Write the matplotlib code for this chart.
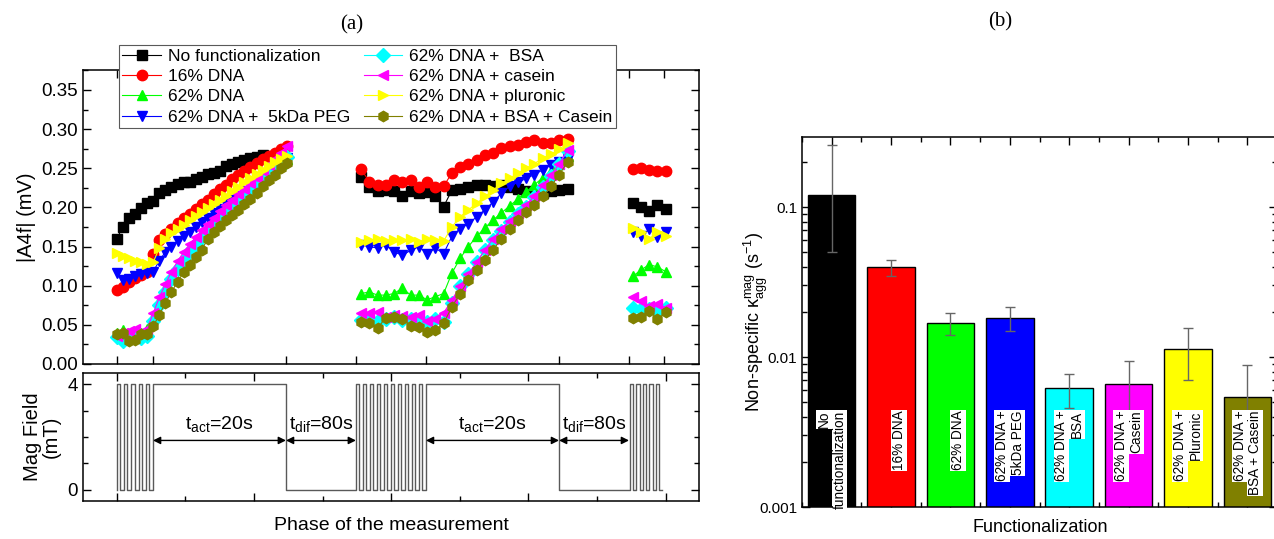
import numpy as np
import matplotlib
matplotlib.use('Agg')
import matplotlib.pyplot as plt
from matplotlib.lines import Line2D
from matplotlib.ticker import FixedLocator, MultipleLocator, FuncFormatter, LogLocator, NullFormatter

plt.rcParams['font.family'] = ['Liberation Sans', 'DejaVu Sans']
plt.rcParams['mathtext.fontset'] = 'custom'
plt.rcParams['mathtext.rm'] = 'Liberation Sans'
plt.rcParams['mathtext.it'] = 'Liberation Sans:italic'

# ---------------- (a) |A4f| over the measurement phases ----------------
series_names = ['No functionalization', '16% DNA', '62% DNA', '62% DNA +  5kDa PEG',
                '62% DNA +  BSA', '62% DNA + casein', '62% DNA + pluronic',
                '62% DNA + BSA + Casein']
series_colors = ['#000000', '#ff0000', '#00ff00', '#0000ff',
                 '#00ffff', '#ff00ff', '#ffff00', '#808000']
series_markers = ['s', 'o', '^', 'v', 'D', '<', '>', 'h']

# phase axis (arbitrary units), boundaries of pulse / actuation / diffusion phases
phase_edges = [0.0, 2.64, 12.33, 17.43, 22.53, 32.23, 37.33, 39.88]

seg1_x = np.linspace(0.0, 12.4, 29)
seg2_x = np.linspace(17.8, 32.85, 26)
seg3_x = np.linspace(37.6, 40.0, 5)

nofunc_1 = [0.160, 0.175, 0.186, 0.192, 0.199, 0.205, 0.208, 0.219, 0.222, 0.226, 0.230, 0.232, 0.233,
            0.236, 0.239, 0.243, 0.244, 0.246, 0.253, 0.256, 0.258, 0.260, 0.263, 0.265, 0.267]
nofunc_2 = [0.239, 0.226, 0.221, 0.222, 0.221, 0.215, 0.221, 0.219, 0.220, 0.214, 0.201, 0.222, 0.224,
            0.226, 0.229, 0.228, 0.227, 0.229, 0.226, 0.224, 0.221, 0.218, 0.219, 0.221, 0.222, 0.224]
nofunc_3 = [0.205, 0.200, 0.195, 0.203, 0.198]

dna16_1 = [0.094, 0.098, 0.105, 0.110, 0.114, 0.118, 0.140, 0.158, 0.166, 0.173, 0.180, 0.186, 0.192,
           0.198, 0.204, 0.210, 0.217, 0.223, 0.229, 0.236, 0.242, 0.247, 0.252, 0.257, 0.262, 0.266,
           0.270, 0.274, 0.278]
dna16_2 = [0.249, 0.233, 0.229, 0.229, 0.235, 0.232, 0.235, 0.226, 0.232, 0.226, 0.227, 0.244, 0.252,
           0.256, 0.260, 0.267, 0.270, 0.276, 0.278, 0.280, 0.284, 0.286, 0.282, 0.282, 0.286, 0.288]
dna16_3 = [0.249, 0.250, 0.248, 0.247, 0.246]

dna62_1 = [0.040, 0.043, 0.036, 0.038, 0.040, 0.045, 0.060, 0.080, 0.097, 0.112, 0.125, 0.137, 0.148,
           0.157, 0.165, 0.173, 0.181, 0.188, 0.195, 0.202, 0.209, 0.216, 0.222, 0.229, 0.236, 0.243,
           0.250, 0.256, 0.262]
dna62_2 = [0.090, 0.092, 0.088, 0.088, 0.090, 0.097, 0.088, 0.088, 0.082, 0.086, 0.090, 0.116, 0.135,
           0.150, 0.163, 0.174, 0.184, 0.193, 0.202, 0.211, 0.220, 0.229, 0.238, 0.247, 0.256, 0.266]
dna62_3 = [0.112, 0.120, 0.127, 0.124, 0.118]

peg_1 = [0.116, 0.107, 0.108, 0.113, 0.115, 0.116, 0.118, 0.132, 0.143, 0.150, 0.157, 0.163, 0.169,
         0.175, 0.181, 0.187, 0.193, 0.198, 0.204, 0.210, 0.215, 0.221, 0.227, 0.233, 0.239, 0.245,
         0.251, 0.257, 0.263]
peg_2 = [0.152, 0.150, 0.148, 0.152, 0.143, 0.139, 0.145, 0.150, 0.141, 0.148, 0.141, 0.163, 0.173,
         0.179, 0.188, 0.197, 0.207, 0.218, 0.227, 0.232, 0.237, 0.242, 0.248, 0.254, 0.258, 0.262]
peg_3 = [0.168, 0.163, 0.172, 0.162, 0.168]

bsa_1 = [0.035, 0.030, 0.033, 0.035, 0.033, 0.036, 0.055, 0.075, 0.092, 0.108, 0.121, 0.133, 0.144,
         0.153, 0.162, 0.170, 0.178, 0.186, 0.193, 0.200, 0.207, 0.214, 0.221, 0.228, 0.235, 0.242,
         0.249, 0.256, 0.265]
bsa_2 = [0.056, 0.058, 0.055, 0.057, 0.060, 0.056, 0.058, 0.056, 0.054, 0.057, 0.054, 0.078, 0.099,
         0.115, 0.130, 0.145, 0.158, 0.170, 0.181, 0.191, 0.201, 0.213, 0.226, 0.240, 0.256, 0.272]
bsa_3 = [0.072, 0.070, 0.070, 0.068, 0.072]

casein_1 = [0.036, 0.040, 0.042, 0.045, 0.040, 0.045, 0.065, 0.085, 0.102, 0.118, 0.131, 0.143, 0.153,
            0.162, 0.171, 0.179, 0.187, 0.195, 0.203, 0.210, 0.217, 0.224, 0.231, 0.238, 0.246, 0.254,
            0.262, 0.270, 0.278]
casein_2 = [0.065, 0.065, 0.067, 0.060, 0.063, 0.061, 0.060, 0.062, 0.055, 0.058, 0.065, 0.082, 0.099,
            0.115, 0.130, 0.146, 0.160, 0.172, 0.183, 0.193, 0.203, 0.215, 0.228, 0.241, 0.256, 0.273]
casein_3 = [0.086, 0.080, 0.074, 0.076, 0.072]

pluronic_1 = [0.142, 0.138, 0.135, 0.132, 0.130, 0.128, 0.130, 0.148, 0.160, 0.167, 0.173, 0.178, 0.184,
              0.189, 0.194, 0.199, 0.204, 0.209, 0.215, 0.221, 0.226, 0.232, 0.237, 0.243, 0.248, 0.253,
              0.258, 0.262, 0.266]
pluronic_2 = [0.156, 0.158, 0.160, 0.157, 0.159, 0.158, 0.160, 0.156, 0.160, 0.158, 0.157, 0.175, 0.188,
              0.197, 0.205, 0.214, 0.222, 0.231, 0.237, 0.244, 0.250, 0.256, 0.263, 0.268, 0.274, 0.282]
pluronic_3 = [0.174, 0.168, 0.160, 0.168, 0.164]

bsacas_1 = [0.038, 0.040, 0.030, 0.031, 0.038, 0.038, 0.048, 0.063, 0.078, 0.092, 0.105, 0.117, 0.127,
            0.137, 0.146, 0.160, 0.168, 0.176, 0.184, 0.190, 0.197, 0.204, 0.211, 0.218, 0.227, 0.235,
            0.242, 0.250, 0.257]
bsacas_2 = [0.054, 0.052, 0.046, 0.059, 0.060, 0.058, 0.049, 0.047, 0.041, 0.043, 0.052, 0.073, 0.090,
            0.107, 0.120, 0.133, 0.146, 0.160, 0.172, 0.184, 0.194, 0.203, 0.214, 0.227, 0.242, 0.258]
bsacas_3 = [0.059, 0.060, 0.068, 0.057, 0.066]

series_segments = [
    (nofunc_1, nofunc_2, nofunc_3),
    (dna16_1, dna16_2, dna16_3),
    (dna62_1, dna62_2, dna62_3),
    (peg_1, peg_2, peg_3),
    (bsa_1, bsa_2, bsa_3),
    (casein_1, casein_2, casein_3),
    (pluronic_1, pluronic_2, pluronic_3),
    (bsacas_1, bsacas_2, bsacas_3),
]

# magnetic field protocol: pulse rising edges, actuation windows
pulse_on = [0.0, 0.53, 1.06, 1.59, 2.12,
            17.43, 17.94, 18.45, 18.96, 19.47, 19.98, 20.49, 21.0, 21.51, 22.02,
            37.4, 37.87, 38.34, 38.81, 39.28]
pulse_width = 0.25
act_windows = [(2.64, 12.33), (22.53, 32.23)]
field_end = 39.75
field_high = 4.0

# ---------------- (b) non-specific aggregation rate ----------------
bar_labels = ['No\nfunctionalization', '16% DNA', '62% DNA', '62% DNA +\n5kDa PEG',
              '62% DNA +\nBSA', '62% DNA +\nCasein', '62% DNA +\nPluronic', '62% DNA +\nBSA + Casein']
bar_values = [0.120, 0.0396, 0.0168, 0.0183, 0.0062, 0.0066, 0.01125, 0.0054]
err_hi = [0.259, 0.0443, 0.0196, 0.0216, 0.0077, 0.0094, 0.0155, 0.0089]
err_lo = [0.050, 0.0347, 0.0140, 0.0150, 0.0046, 0.0040, 0.0070, 0.0022]
bar_colors = ['#000000', '#ff0000', '#00ff00', '#0000ff', '#00ffff', '#ff00ff', '#ffff00', '#808000']

# ---------------- figure ----------------
W, H = 1274, 539
fig = plt.figure(figsize=(W / 100, H / 100), dpi=100)


def fig_rect(x0, y0, x1, y1):
    # pixel box (top-left origin) -> figure fraction rect
    return [x0 / W, 1 - y1 / H, (x1 - x0) / W, (y1 - y0) / H]


ax1 = fig.add_axes(fig_rect(83, 70, 699, 364))
ax2 = fig.add_axes(fig_rect(83, 373, 699, 501))
ax3 = fig.add_axes(fig_rect(802, 137, 1277, 507))

xlim = (-2.46, 42.43)

# top panel
for segs, c, m in zip(series_segments, series_colors, series_markers):
    for xs, ys in zip((seg1_x, seg2_x, seg3_x), segs):
        ax1.plot(xs[:len(ys)], ys, color=c, marker=m, ms=7.5, mec=c, mfc=c, lw=0.8)

ax1.set_xlim(*xlim)
ax1.set_ylim(0, 0.3755)
ax1.xaxis.set_major_locator(FixedLocator(phase_edges))
ax1.yaxis.set_major_locator(MultipleLocator(0.05))
ax1.yaxis.set_minor_locator(MultipleLocator(0.025))
ax1.yaxis.set_major_formatter(FuncFormatter(lambda v, p: f'{v:.2f}'))
ax1.tick_params(which='both', direction='in', top=True, right=True, labelbottom=False, labelsize=13.5)
ax1.tick_params(which='major', length=6, width=1)
ax1.tick_params(which='minor', length=3.5, width=1)

handles = [Line2D([], [], color=c, marker=m, ms=7.5, lw=0.8) for c, m in zip(series_colors, series_markers)]
leg = ax1.legend(handles, series_names, ncol=2, loc='upper left',
                 bbox_to_anchor=(119 / W, 1 - 45 / H), bbox_transform=fig.transFigure,
                 fontsize=12.5, frameon=True, fancybox=False, framealpha=1, edgecolor='0.35',
                 borderaxespad=0, borderpad=0.2, labelspacing=0.3, handlelength=2.2,
                 handletextpad=0.4, columnspacing=0.8)
leg.get_frame().set_linewidth(0.8)

# bottom panel: field waveform
wx, wy = [pulse_on[0]], [0.0]
events = [(t, t + pulse_width) for t in pulse_on] + act_windows
for on, off in sorted(events):
    wx += [on, on, off, off]
    wy += [0.0, field_high, field_high, 0.0]
wx.append(field_end)
wy.append(0.0)
ax2.plot(wx, wy, color='0.35', lw=1.0)

ax2.set_xlim(*xlim)
ax2.set_ylim(-0.42, 4.42)
ax2.xaxis.set_major_locator(MultipleLocator(10))
ax2.xaxis.set_minor_locator(MultipleLocator(5))
ax2.yaxis.set_major_locator(FixedLocator([0, 4]))
ax2.yaxis.set_minor_locator(FixedLocator([1, 2, 3]))
ax2.tick_params(which='both', direction='in', top=True, right=True, labelbottom=False, labelsize=13.5)
ax2.tick_params(which='major', length=6, width=1)
ax2.tick_params(which='minor', length=3.5, width=1)

arrow_y = 1.87
text_y = 2.29
arrow_kw = dict(arrowstyle='<|-|>', color='black', lw=1.0, mutation_scale=11, shrinkA=0, shrinkB=0)
for a0, a1 in act_windows:
    ax2.annotate('', xy=(a0, arrow_y), xytext=(a1, arrow_y), arrowprops=arrow_kw)
    ax2.text((a0 + a1) / 2, text_y, r'$\mathrm{t_{act}}$=20s', ha='center', va='baseline', fontsize=14)
for d0, d1 in [(phase_edges[2], phase_edges[3]), (phase_edges[5], phase_edges[6])]:
    ax2.annotate('', xy=(d0, arrow_y), xytext=(d1, arrow_y), arrowprops=arrow_kw)
    ax2.text((d0 + d1) / 2, text_y, r'$\mathrm{t_{dif}}$=80s', ha='center', va='baseline', fontsize=14)

for ax in (ax1, ax2, ax3):
    for s in ax.spines.values():
        s.set_linewidth(1.1)

fig.text(27 / W, 1 - 217 / H, '|A4f| (mV)', rotation=90, ha='center', va='center', fontsize=14.5)
fig.text(42 / W, 1 - 437 / H, 'Mag Field\n(mT)', rotation=90, ha='center', va='center',
         fontsize=14.5, multialignment='center', linespacing=1.0)
fig.text(391 / W, 1 - 525 / H, 'Phase of the measurement', ha='center', va='center', fontsize=14)
fig.text(352 / W, 1 - 25 / H, '(a)', ha='center', va='center', fontsize=15, family='Liberation Serif')
fig.text(1000 / W, 1 - 22 / H, '(b)', ha='center', va='center', fontsize=15, family='Liberation Serif')

# right panel: bars on log scale
ax3.set_yscale('log')
xb = np.arange(len(bar_values))
ax3.bar(xb, bar_values, width=0.8, color=bar_colors, edgecolor='black', linewidth=1.0, zorder=2)
yerr = [np.array(bar_values) - np.array(err_lo), np.array(err_hi) - np.array(bar_values)]
ax3.errorbar(xb, bar_values, yerr=yerr, fmt='none', ecolor='0.4', elinewidth=1.0,
             capsize=3.5, capthick=1.0, zorder=3)

label_top = 0.0044
for i, lab in enumerate(bar_labels):
    lines = lab.split('\n')
    offs = [0.13] if len(lines) == 1 else [-0.13, 0.13]
    for off, line in zip(offs, lines):
        ax3.text(i + off, label_top, line, rotation=90, ha='center', va='top', fontsize=9.8,
                 bbox=dict(facecolor='white', edgecolor='none', pad=0.6), zorder=4)

ax3.set_xlim(-0.5, 7.5)
ax3.set_ylim(0.001, 0.293)
ax3.set_xticks(xb)
ax3.xaxis.set_minor_locator(MultipleLocator(0.5))
ax3.yaxis.set_major_locator(FixedLocator([0.001, 0.01, 0.1]))
ax3.yaxis.set_minor_locator(LogLocator(base=10, subs=np.arange(2, 10)))
ax3.yaxis.set_major_formatter(FuncFormatter(lambda v, p: f'{v:g}'))
ax3.yaxis.set_minor_formatter(NullFormatter())
ax3.tick_params(which='both', direction='in', top=True, right=True, labelbottom=False, labelsize=11)
ax3.tick_params(which='major', length=6, width=1)
ax3.tick_params(which='minor', length=3.5, width=1)

fig.text(1040 / W, 1 - 528 / H, 'Functionalization', ha='center', va='center', fontsize=13)
fig.text(756 / W, 1 - 322 / H,
         r'Non-specific κ$_{\mathrm{agg}}^{\mathrm{mag}}$ (s$^{\mathrm{-1}}$)',
         rotation=90, ha='center', va='center', fontsize=13)

fig.savefig('out.png', dpi=100)
